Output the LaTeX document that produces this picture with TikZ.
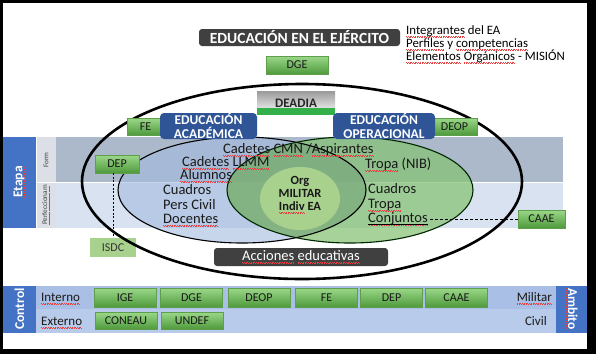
\documentclass[tikz,border=0pt]{standalone}
\usepackage{fontspec}
\setmainfont{Carlito}
\usetikzlibrary{calc}
\definecolor{spellred}{HTML}{E84040}
\definecolor{gtop}{HTML}{9BD889}
\definecolor{gbot}{HTML}{4F9A3C}
\definecolor{gedge}{HTML}{5E9E4C}
\definecolor{darkbx}{HTML}{404040}
\definecolor{bluebx}{HTML}{2F5597}
\definecolor{colblue}{HTML}{4472C4}
\definecolor{formrow}{HTML}{ACB9CB}
\definecolor{perfrow}{HTML}{D9E2F1}
\definecolor{graycol}{HTML}{DCE0E6}
\definecolor{blueell}{HTML}{A3BBDF}
\definecolor{greenell}{HTML}{84C272}
\definecolor{overlapc}{HTML}{5F8A5F}
\definecolor{innerc}{HTML}{A9D18E}
\definecolor{ctrlrowa}{HTML}{A9BFE5}
\definecolor{ctrlrowb}{HTML}{B8CBEA}
\definecolor{isdcc}{HTML}{A9D18E}
\definecolor{deagray}{HTML}{9A9A9A}
\definecolor{deagreen}{HTML}{33B04A}
\newcommand\spellu[1]{\leavevmode\setbox0\hbox{#1}\rlap{\color{spellred}\hbox to\wd0{\xleaders\hbox{\rule[-2.3pt]{0.6pt}{0.45pt}\rule[-2.9pt]{0.6pt}{0.45pt}\hskip0.5pt}\hfil}}#1}
\begin{document}
\begin{tikzpicture}[x=1pt,y=-1pt,
  gbox/.style={draw=gedge, line width=0.4, top color=gtop, bottom color=gbot, minimum width=62, minimum height=18, inner sep=0, font=\fontsize{12}{13}\selectfont, text=black!90},
  darkbox/.style={fill=darkbx, rounded corners=3, text=white, inner sep=0},
  bluebox/.style={fill=bluebx, rounded corners=4, text=white, align=center, inner sep=0, font=\bfseries\fontsize{13.5}{14}\selectfont},
  etxt/.style={anchor=base west, inner sep=0, font=\fontsize{14.5}{16}\selectfont, text=black!90},
  ltxt/.style={anchor=base west, inner sep=0, font=\fontsize{12.8}{14}\selectfont},
  ctxt/.style={inner sep=0, font=\fontsize{13}{14}\selectfont, text=black!90},
  vtxt/.style={inner sep=0, text=white, font=\bfseries\fontsize{13.5}{15}\selectfont}
]
\useasboundingbox (0,0) rectangle (596,354);
% frame
\fill[black] (0,0) rectangle (596,354);
\fill[white] (3,3) rectangle (587,349);

% band (Etapa)
\fill[colblue] (3,137) rectangle (36,228);
\fill[graycol] (36.6,137) rectangle (56,228);
\fill[formrow] (56,137) rectangle (563,182);
\fill[perfrow] (56,182) rectangle (563,228);
\draw[white, line width=0.7] (36.6,182) -- (563,182);
\node[vtxt, rotate=90] (etapa) at (19.5,182) {\spellu{Etapa}};
\node[inner sep=0, rotate=90, font=\fontsize{7.2}{8}\selectfont, text=black!75] (form) at (46,160) {Form};
\node[inner sep=0, rotate=90, font=\fontsize{7.2}{8}\selectfont, text=black!75] (perf) at (46,205) {\spellu{Perfeccionam}};

% inner ellipses
\fill[blueell, fill opacity=0.6] (242,190) ellipse [x radius=124, y radius=53];
\fill[greenell, fill opacity=0.71] (350,190) ellipse [x radius=123, y radius=53];
\begin{scope}
  \clip (242,190) ellipse [x radius=124, y radius=53];
  \fill[overlapc, fill opacity=0.3] (350,190) ellipse [x radius=123, y radius=53];
\end{scope}
\fill[innerc] (300,198.5) ellipse [x radius=40, y radius=31.5];
\draw[black, line width=1.1] (242,190) ellipse [x radius=124, y radius=53];
\draw[black!85!green, line width=1.1] (350,190) ellipse [x radius=123, y radius=53];

% ISDC (under outer line)
\node[fill=isdcc, minimum width=46, minimum height=19, inner sep=0, font=\fontsize{12}{13}\selectfont, text=black!80] (isdc) at (113,247.5) {ISDC};

% outer ellipse
\draw[black, line width=2.6] (302,181.5) ellipse [x radius=220, y radius=97.5];

% top
\node[darkbox, minimum width=201, minimum height=17, font=\bfseries\fontsize{15.5}{16}\selectfont] (title) at (299.5,37.5) {EDUCACIÓN EN EL EJÉRCITO};
\node[ltxt] (l1) at (406,34.5) {\spellu{Integrantes} del EA};
\node[ltxt] (l2) at (406,47.5) {\spellu{Perfiles} y \spellu{competencias}};
\node[ltxt] (l3) at (406,60.5) {\spellu{Elementos} \spellu{Orgánicos} - MISIÓN};
\node[gbox] (dge) at (297,65) {DGE};
\node[top color=deagray, bottom color=white, minimum width=78, minimum height=24, inner sep=0,
  path picture={\fill[deagreen] (path picture bounding box.south west) rectangle ([yshift=7pt]path picture bounding box.south east);},
  font=\bfseries\fontsize{13}{14}\selectfont, text=black!85] (deadia) at (296,103) {DEADIA};

% side boxes
\node[gbox, minimum width=36, minimum height=17] (fe) at (145.5,126.5) {FE};
\node[gbox, minimum width=45, minimum height=17] (deop) at (454.5,126.5) {DEOP};
\node[bluebox, minimum width=97, minimum height=26] (acad) at (208.5,126) {EDUCACIÓN\\ACADÉMICA};
\node[bluebox, minimum width=102, minimum height=26] (oper) at (384,126) {EDUCACIÓN\\OPERACIONAL};
\node[gbox, minimum width=44, minimum height=18] (dep) at (117,164) {DEP};
\node[gbox, minimum width=47, minimum height=18] (caae) at (541.5,219) {CAAE};
\draw[dashed, dash pattern=on 2pt off 1.6pt, line width=0.6] (dep.south -| isdc.north) -- (isdc.north);

% texts in ellipses
\node[etxt] (cmn) at (223,153.5) {\spellu{Cadetes} \spellu{CMN} /\spellu{Aspirantes}};
\node[etxt] (llmm) at (182,166.5) {\spellu{Cadetes} \spellu{LLMM}};
\node[etxt] (alum) at (180,179.5) {\spellu{Alumnos}};
\node[etxt] (cuadl) at (163,194.5) {Cuadros};
\node[etxt] (pers) at (163,209.5) {Pers Civil};
\node[etxt] (doc) at (163,223.5) {\spellu{Docentes}};
\node[etxt] (nib) at (365,168.5) {\spellu{Tropa} (NIB)};
\node[etxt] (cuadr) at (368,193.5) {Cuadros};
\node[etxt] (tropa) at (368,208.5) {\spellu{Tropa}};
\node[etxt] (conj) at (368,222.5) {\spellu{Conjuntos}};
\path (conj.base west) ++(0,1.8) coordinate (cu1);
\draw[black, line width=1] (cu1) -- (cu1 -| conj.east);
\draw[dashed, dash pattern=on 3pt off 2pt, line width=0.6] ($(conj.east)+(2,0)$) coordinate (cdash) (cdash |- caae.west) -- (caae.west);
\node[inner sep=0, align=center, font=\bfseries\fontsize{12.5}{12.8}\selectfont, text=black!90] (org) at (300,195) {Org\\MILITAR\\\spellu{Indiv} EA};

% acciones
\node[darkbox, minimum width=174, minimum height=18, font=\fontsize{14.5}{15}\selectfont] (acc) at (301,257) {\spellu{Acciones} \spellu{educativas}};

% control bar
\fill[colblue] (3,286) rectangle (36,332.5);
\fill[ctrlrowa] (36,286) rectangle (556,309);
\fill[ctrlrowb] (36,309) rectangle (556,332.5);
\fill[colblue] (556,286) rectangle (587,332.5);
\node[vtxt, rotate=90] (control) at (19.5,309) {Control};
\node[vtxt, rotate=-90] (ambito) at (571.5,309) {\spellu{Ambito}};
\node[ctxt, anchor=base west] (interno) at (41,301.5) {\spellu{Interno}};
\node[ctxt, anchor=base west] (externo) at (41,325.5) {\spellu{Externo}};
\node[ctxt, anchor=base east] (militar) at (552,301.5) {\spellu{Militar}};
\node[ctxt, anchor=base east] (civil) at (547,325.5) {Civil};
\node[gbox, minimum height=19] (ige) at (125,297.5) {IGE};
\node[gbox, minimum height=19] (dge2) at (191.5,297.5) {DGE};
\node[gbox, minimum height=19] (deop2) at (259,297.5) {DEOP};
\node[gbox, minimum height=19] (fe2) at (326.5,297.5) {FE};
\node[gbox, minimum height=19] (dep2) at (391.5,297.5) {DEP};
\node[gbox, minimum height=19] (caae2) at (456.5,297.5) {CAAE};
\node[gbox, minimum height=17] (coneau) at (126,320.5) {CONEAU};
\node[gbox, minimum height=17] (undef) at (192,320.5) {UNDEF};
\end{tikzpicture}
\end{document}
